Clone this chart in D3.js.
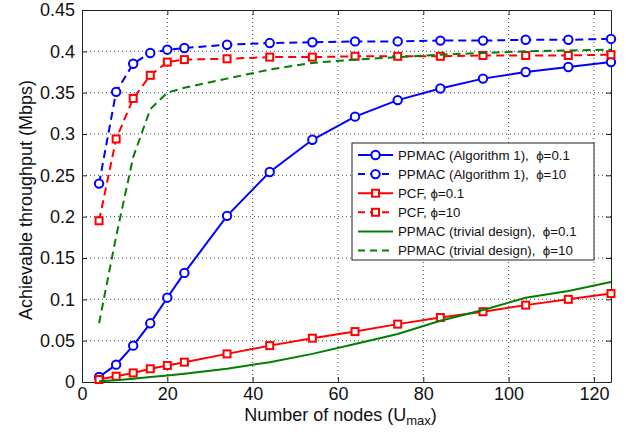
<!DOCTYPE html>
<html>
<head>
<meta charset="utf-8">
<script src="https://cdn.jsdelivr.net/npm/d3@7"></script>
<style>
  body { margin: 0; background: #fff; }
  svg { display: block; font-family: "Liberation Sans", Arial, sans-serif; }
</style>
</head>
<body>
<svg class="chart" width="626" height="434"></svg>
<script>
// number of nodes (x values shared by all series)
const nodes = [4, 8, 12, 16, 20, 24, 34, 44, 54, 64, 74, 84, 94, 104, 114, 124];

// achievable throughput (Mbps) for each curve
const ppmacAlgPhi01 = [0.006, 0.021, 0.044, 0.071, 0.102, 0.132, 0.201, 0.254, 0.293, 0.321, 0.341, 0.355, 0.367, 0.375, 0.381, 0.387];
const ppmacAlgPhi10 = [0.240, 0.351, 0.385, 0.398, 0.402, 0.404, 0.408, 0.410, 0.411, 0.412, 0.412, 0.413, 0.413, 0.414, 0.414, 0.415];
const pcfPhi01 = [0.003, 0.007, 0.011, 0.016, 0.020, 0.024, 0.034, 0.044, 0.053, 0.061, 0.070, 0.078, 0.085, 0.093, 0.100, 0.107];
const pcfPhi10 = [0.195, 0.294, 0.343, 0.371, 0.387, 0.390, 0.391, 0.393, 0.393, 0.394, 0.394, 0.394, 0.395, 0.395, 0.395, 0.396];
const trivialPhi01 = [0.001, 0.002, 0.004, 0.006, 0.008, 0.010, 0.016, 0.024, 0.034, 0.046, 0.058, 0.074, 0.087, 0.102, 0.110, 0.121];
const trivialPhi10 = [0.071, 0.176, 0.272, 0.330, 0.350, 0.356, 0.367, 0.378, 0.386, 0.390, 0.393, 0.396, 0.398, 0.400, 0.401, 0.402];

// axis ticks
const xTicks = [0, 20, 40, 60, 80, 100, 120];
const yTicks = [0, 0.05, 0.1, 0.15, 0.2, 0.25, 0.3, 0.35, 0.4, 0.45];

const series = [
  { name: "PPMAC (Algorithm 1),  ϕ=0.1", values: ppmacAlgPhi01, color: "#0000ff", dash: null, marker: "circle" },
  { name: "PPMAC (Algorithm 1),  ϕ=10", values: ppmacAlgPhi10, color: "#0000ff", dash: "8,5", marker: "circle" },
  { name: "PCF, ϕ=0.1", values: pcfPhi01, color: "#ff0000", dash: null, marker: "square" },
  { name: "PCF, ϕ=10", values: pcfPhi10, color: "#ff0000", dash: "8,5", marker: "square" },
  { name: "PPMAC (trivial design),  ϕ=0.1", values: trivialPhi01, color: "#008000", dash: null, marker: null },
  { name: "PPMAC (trivial design),  ϕ=10", values: trivialPhi10, color: "#008000", dash: "8,5", marker: null }
];

const svg = d3.select('.chart');
const margin = { top: 10, right: 15, bottom: 52, left: 82 };
const width = 626 - margin.left - margin.right;
const height = 434 - margin.top - margin.bottom;

const x = d3.scaleLinear().domain([0, 124]).range([0, width]);
const y = d3.scaleLinear().domain([0, 0.45]).range([height, 0]);

const g = svg.append('g').attr('transform', `translate(${margin.left},${margin.top})`);

// dotted grid
g.append('g').selectAll('line').data(xTicks.filter(d => d > 0)).join('line')
  .attr('x1', d => x(d)).attr('x2', d => x(d)).attr('y1', 0).attr('y2', height)
  .attr('stroke', '#444').attr('stroke-width', 1).attr('stroke-dasharray', '1,3');
g.append('g').selectAll('line').data(yTicks.filter(d => d > 0 && d < 0.45)).join('line')
  .attr('x1', 0).attr('x2', width).attr('y1', d => y(d)).attr('y2', d => y(d))
  .attr('stroke', '#444').attr('stroke-width', 1).attr('stroke-dasharray', '1,3');

const fmtY = d => d === 0 ? "0" : String(+d.toFixed(2));

// axes, ticks pointing inward like matlab
const styleAxis = sel => {
  sel.selectAll('.domain').attr('stroke', '#222');
  sel.selectAll('.tick line').attr('stroke', '#222');
  sel.selectAll('text').attr('font-size', 18).attr('fill', '#111')
    .attr('font-family', '"Liberation Sans", Arial, sans-serif');
};
g.append('g').attr('transform', `translate(0,${height})`)
  .call(d3.axisBottom(x).tickValues(xTicks).tickSizeInner(-5).tickSizeOuter(0).tickPadding(5))
  .call(styleAxis);
g.append('g')
  .call(d3.axisLeft(y).tickValues(yTicks).tickFormat(fmtY).tickSizeInner(-5).tickSizeOuter(0).tickPadding(7))
  .call(styleAxis);
g.append('g')
  .call(d3.axisTop(x).tickValues(xTicks).tickSizeInner(-5).tickSizeOuter(0).tickFormat(''))
  .call(styleAxis);
g.append('g').attr('transform', `translate(${width},0)`)
  .call(d3.axisRight(y).tickValues(yTicks).tickSizeInner(-5).tickSizeOuter(0).tickFormat(''))
  .call(styleAxis);

// lines
const line = d3.line().x((d, i) => x(nodes[i])).y(d => y(d));

function drawMarkers(sel, kind, color) {
  if (kind === "circle") {
    sel.append('circle').attr('r', 4.2);
  } else if (kind === "square") {
    sel.append('rect').attr('x', -3.5).attr('y', -3.5).attr('width', 7).attr('height', 7);
  }
  sel.selectAll('circle, rect').attr('fill', '#fff').attr('stroke', color).attr('stroke-width', 2);
}

series.forEach(s => {
  g.append('path').datum(s.values)
    .attr('d', line)
    .attr('fill', 'none')
    .attr('stroke', s.color)
    .attr('stroke-width', 2)
    .attr('stroke-dasharray', s.dash);
  if (s.marker) {
    g.append('g').selectAll('g').data(s.values).join('g')
      .attr('transform', (d, i) => `translate(${x(nodes[i])},${y(d)})`)
      .each(function () { drawMarkers(d3.select(this), s.marker, s.color); });
  }
});

// axis labels
svg.append('text')
  .attr('transform', `translate(27,${margin.top + height / 2 + 4}) rotate(-90)`)
  .attr('text-anchor', 'middle').attr('dominant-baseline', 'middle')
  .attr('font-size', 18).attr('fill', '#111')
  .text('Achievable throughput (Mbps)');

const xl = svg.append('text')
  .attr('x', margin.left + width / 2 - 6).attr('y', 421)
  .attr('text-anchor', 'middle').attr('font-size', 18).attr('fill', '#111');
xl.append('tspan').text('Number of nodes (U');
xl.append('tspan').attr('font-size', 13).attr('dy', 4).text('max');
xl.append('tspan').attr('dy', -4).text(')');

// legend
const lg = svg.append('g').attr('transform', 'translate(352,143)');
lg.append('rect').attr('width', 242).attr('height', 117)
  .attr('fill', '#fff').attr('stroke', '#222').attr('stroke-width', 1);
const rows = lg.selectAll('g.row').data(series).join('g')
  .attr('class', 'row')
  .attr('transform', (d, i) => `translate(0,${12 + i * 19.1})`);
rows.append('line')
  .attr('x1', 6).attr('x2', 41).attr('y1', 0).attr('y2', 0)
  .attr('stroke', d => d.color).attr('stroke-width', 2)
  .attr('stroke-dasharray', d => d.dash ? '7,5' : null);
rows.each(function (d) {
  if (d.marker) {
    const m = d3.select(this).append('g').attr('transform', 'translate(23.5,0)');
    drawMarkers(m, d.marker, d.color);
  }
});
rows.append('text')
  .attr('x', 46).attr('y', 0).attr('dy', '0.36em')
  .attr('font-size', 13.3).attr('fill', '#111')
  .style('white-space', 'pre')
  .text(d => d.name);
</script>
</body>
</html>
